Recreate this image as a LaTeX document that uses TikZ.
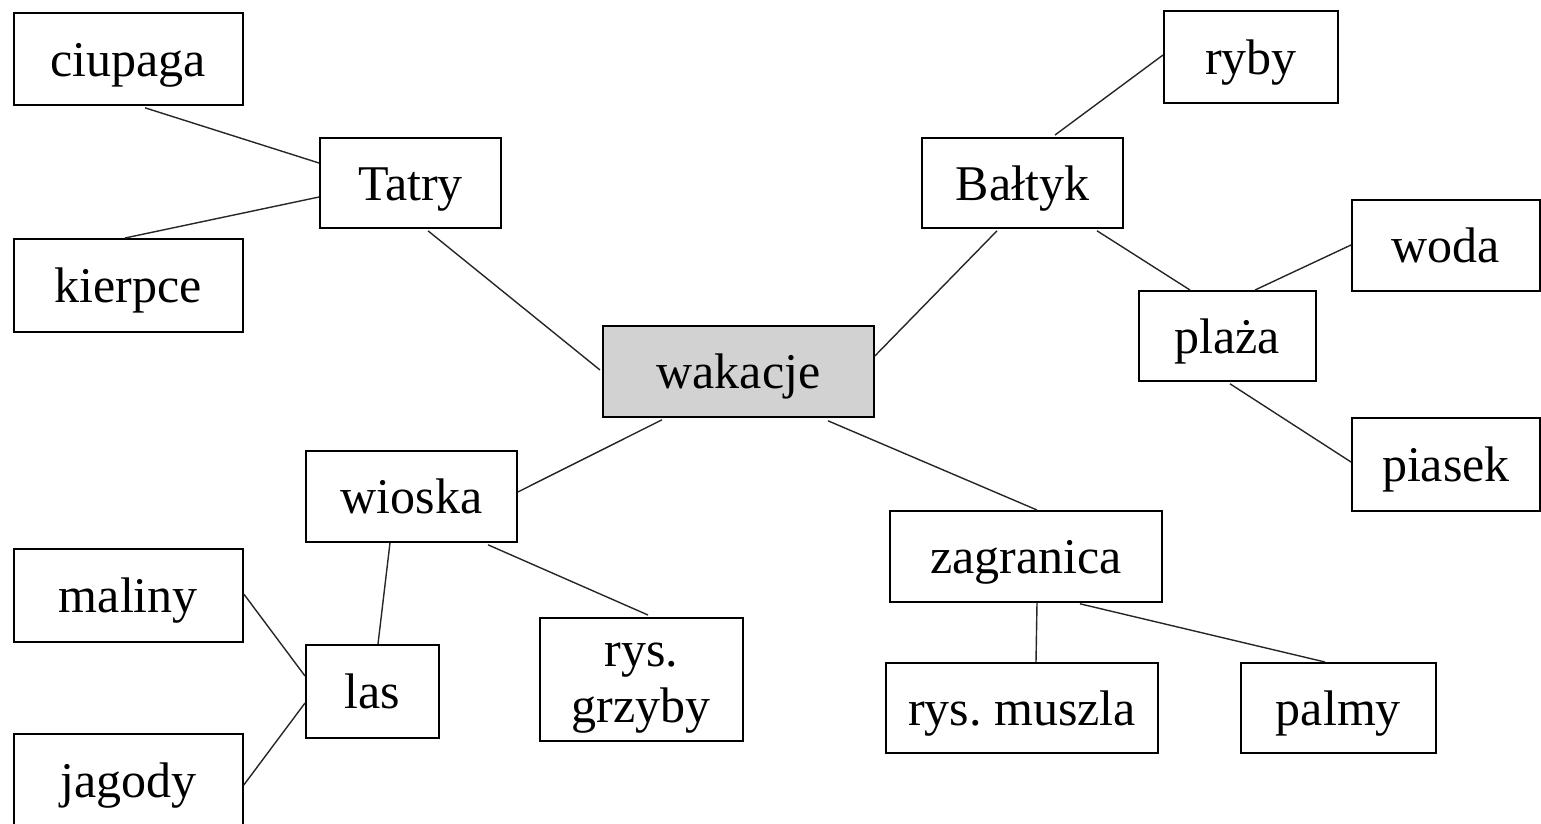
\documentclass[tikz,border=0pt]{standalone}
\usepackage{fontspec}
\setmainfont{Liberation Serif}
\usetikzlibrary{calc}
\tikzset{
  box/.style={draw=black, line width=1.8pt, rectangle, anchor=north west, align=center,
    inner sep=0pt, text height=45pt, text depth=10pt, font=\fontsize{50}{56}\selectfont},
  link/.style={draw=black!85, line width=1.4pt},
}
\definecolor{boxgray}{RGB}{210,210,210}
\begin{document}
\begin{tikzpicture}[x=1pt,y=-1pt]
\useasboundingbox (0,0) rectangle (1541,823);
\node[box, minimum width=229pt, minimum height=92pt] (ciupaga) at (13,12) {ciupaga};
\node[box, minimum width=229pt, minimum height=93pt] (kierpce) at (13,238) {kierpce};
\node[box, minimum width=181pt, minimum height=90pt] (Tatry) at (319,137) {Tatry};
\node[box, fill=boxgray, minimum width=271pt, minimum height=91pt] (wakacje) at (602,325) {wakacje};
\node[box, minimum width=201pt, minimum height=90pt] (Baltyk) at (921,137) {Bałtyk};
\node[box, minimum width=174pt, minimum height=92pt] (ryby) at (1163,10) {ryby};
\node[box, minimum width=188pt, minimum height=91pt] (woda) at (1351,199) {woda};
\node[box, minimum width=177pt, minimum height=90pt] (plaza) at (1138,290) {plaża};
\node[box, minimum width=188pt, minimum height=93pt] (piasek) at (1351,417) {piasek};
\node[box, minimum width=211pt, minimum height=91pt] (wioska) at (305,450) {wioska};
\node[box, minimum width=272pt, minimum height=91pt] (zagranica) at (889,510) {zagranica};
\node[box, minimum width=229pt, minimum height=93pt] (maliny) at (13,548) {maliny};
\node[box, minimum width=133pt, minimum height=93pt] (las) at (305,644) {las};
\node[box, minimum width=229pt, minimum height=92pt] (jagody) at (13,733) {jagody};
\node[box, text height=100pt, text depth=13pt, minimum width=203pt, minimum height=123pt] (grzyby) at (539,617) {rys.\\grzyby};
\node[box, minimum width=272pt, minimum height=90pt] (muszla) at (885,662) {rys.~muszla};
\node[box, minimum width=195pt, minimum height=90pt] (palmy) at (1240,662) {palmy};

\draw[link] ($(ciupaga.south west)+(132,2)$) -- ($(Tatry.north west)+(0,26)$);
\draw[link] ($(kierpce.north west)+(112,0)$) -- ($(Tatry.north west)+(0,60)$);
\draw[link] ($(Tatry.south west)+(109,2)$) -- ($(wakacje.north west)+(-2,45)$);
\draw[link] ($(wakacje.north east)+(0,31)$) -- ($(Baltyk.south west)+(76,2)$);
\draw[link] ($(Baltyk.north west)+(134,-2)$) -- ($(ryby.north west)+(0,45)$);
\draw[link] ($(Baltyk.south west)+(176,2)$) -- ($(plaza.north west)+(52,0)$);
\draw[link] ($(plaza.north west)+(117,0)$) -- ($(woda.north west)+(0,46)$);
\draw[link] ($(plaza.south west)+(92,2)$) -- ($(piasek.north west)+(0,45)$);
\draw[link] ($(wakacje.south west)+(60,2)$) -- ($(wioska.north east)+(0,42)$);
\draw[link] ($(wakacje.south west)+(226,3)$) -- ($(zagranica.north west)+(148,0)$);
\draw[link] ($(wioska.south west)+(85,0)$) -- ($(las.north west)+(73,0)$);
\draw[link] ($(wioska.south west)+(183,2)$) -- ($(grzyby.north west)+(109,-2)$);
\draw[link] ($(las.north west)+(0,32)$) -- ($(maliny.north east)+(0,46)$);
\draw[link] ($(las.north west)+(0,59)$) -- ($(jagody.north east)+(0,52)$);
\draw[link] ($(zagranica.south west)+(148,0)$) -- ($(muszla.north west)+(151,0)$);
\draw[link] ($(zagranica.south west)+(191,1)$) -- ($(palmy.north west)+(85,0)$);
\end{tikzpicture}
\end{document}
